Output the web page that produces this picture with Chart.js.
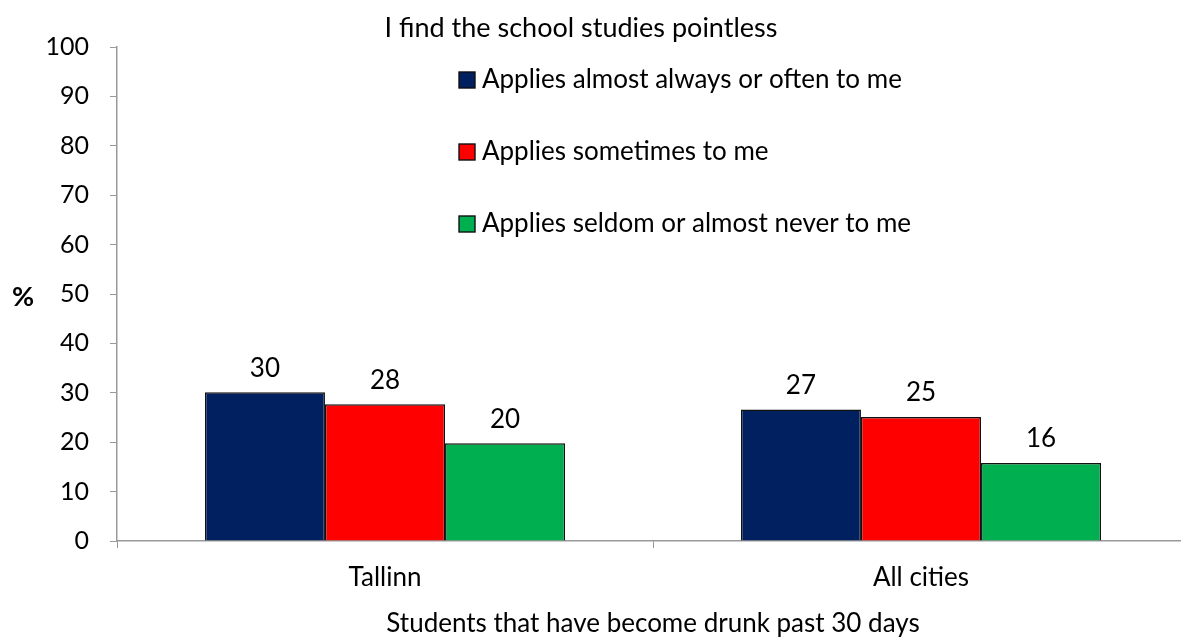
<!DOCTYPE html>
<html>
<head>
<meta charset="utf-8">
<script src="https://cdn.jsdelivr.net/npm/chart.js@4"></script>
<style>
  html, body { margin: 0; padding: 0; background: #fff; overflow: hidden; }
  #wrap { width: 1200px; height: 641px; }
</style>
</head>
<body>
<div id="wrap"><canvas id="chart" width="1200" height="641"></canvas></div>
<script>
// Datos
const titulo = "I find the school studies pointless";
const categorias = ["Tallinn", "All cities"];
const series = [
    "Applies almost always or often to me",
    "Applies sometimes to me",
    "Applies seldom or almost never to me"
];
const siempre = [30.1, 26.6];
const aveces = [27.7, 25.1];
const nunca = [19.8, 15.8];
const colores = ['#002060', '#ff0000', '#00b050'];
const yTicks = [0, 10, 20, 30, 40, 50, 60, 70, 80, 90, 100];
const xTitulo = "Students that have become drunk past 30 days";
const yTitulo = "%";

const FONT = "Lato, 'Open Sans', sans-serif";

// textos extra: titulo, leyenda, etiquetas y "%"
const extras = {
    id: 'extras',
    afterDatasetsDraw(chart) {
        const ctx = chart.ctx;
        ctx.save();
        ctx.fillStyle = '#000';
        ctx.textBaseline = 'middle';

        ctx.font = '27px ' + FONT;
        ctx.textAlign = 'center';
        ctx.fillText(titulo, 581, 28);

        // etiquetas de valores
        ctx.font = '26px ' + FONT;
        chart.data.datasets.forEach((ds, i) => {
            chart.getDatasetMeta(i).data.forEach((bar, j) => {
                ctx.fillText(Math.round(ds.data[j]), bar.x, bar.y - 24);
            });
        });

        // leyenda vertical
        ctx.textAlign = 'left';
        ctx.font = '26px ' + FONT;
        chart.data.datasets.forEach((ds, i) => {
            const y = 80 + i * 72;
            ctx.fillStyle = ds.backgroundColor;
            ctx.fillRect(459, y - 8, 16, 16);
            ctx.strokeStyle = '#111';
            ctx.lineWidth = 1.4;
            ctx.strokeRect(459, y - 8, 16, 16);
            ctx.fillStyle = '#000';
            ctx.fillText(ds.label, 482, y);
        });

        ctx.font = 'bold 27px ' + FONT;
        ctx.textAlign = 'center';
        ctx.fillText(yTitulo, 23, 297);
        ctx.restore();
    }
};

const ctx = document.getElementById('chart').getContext('2d');
new Chart(ctx, {
    type: 'bar',
    data: {
        labels: categorias,
        datasets: [
            { label: series[0], data: siempre, backgroundColor: colores[0] },
            { label: series[1], data: aveces, backgroundColor: colores[1] },
            { label: series[2], data: nunca, backgroundColor: colores[2] }
        ]
    },
    options: {
        responsive: false,
        animation: false,
        layout: { padding: { top: 47, right: 11, left: 0, bottom: 0 } },
        datasets: {
            bar: {
                categoryPercentage: 0.672,
                barPercentage: 1,
                borderWidth: 1.5,
                borderColor: '#111'
            }
        },
        plugins: {
            legend: { display: false },
            title: { display: false },
            tooltip: { enabled: false }
        },
        scales: {
            x: {
                afterFit: s => { s.height = 100; },
                grid: { drawOnChartArea: false, tickLength: 7, color: '#999', offset: true },
                border: { color: '#999', width: 1.5 },
                ticks: { color: '#000', font: { family: FONT, size: 26 }, padding: 14 },
                title: {
                    display: true, text: xTitulo, color: '#000',
                    font: { family: FONT, size: 26 }, padding: { top: 0, bottom: 2 }
                }
            },
            y: {
                min: 0, max: 100,
                afterFit: s => { s.width = 117; },
                afterBuildTicks: s => { s.ticks = yTicks.map(v => ({ value: v })); },
                grid: { drawOnChartArea: false, tickLength: 7, color: '#999' },
                border: { color: '#999', width: 1.5 },
                ticks: { color: '#000', font: { family: FONT, size: 25 }, padding: 21 }
            }
        }
    },
    plugins: [extras]
});
</script>
</body>
</html>
